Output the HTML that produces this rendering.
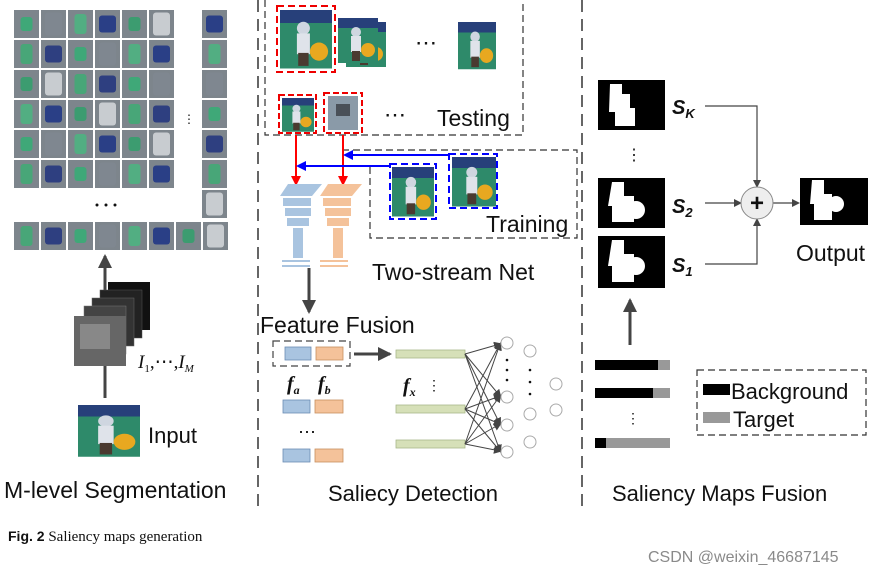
<!DOCTYPE html>
<html><head><meta charset="utf-8"><style>
body{margin:0;background:#fff;width:896px;height:575px;overflow:hidden}
svg{display:block}
text{font-family:"Liberation Sans",sans-serif;fill:#111}
</style></head><body>
<svg id="s" width="896" height="575" viewBox="0 0 896 575" xmlns="http://www.w3.org/2000/svg">
<defs>
<marker id="ag" markerWidth="8" markerHeight="8" refX="6" refY="4" orient="auto" markerUnits="userSpaceOnUse"><path d="M0,0 L8,4 L0,8z" fill="#444"/></marker>
<marker id="agb" markerWidth="14" markerHeight="14" refX="12" refY="7" orient="auto" markerUnits="userSpaceOnUse"><path d="M0,0 L14,7 L0,14z" fill="#444"/></marker>
<marker id="ar" markerWidth="10" markerHeight="10" refX="8" refY="5" orient="auto" markerUnits="userSpaceOnUse"><path d="M0,0 L10,5 L0,10z" fill="#f00"/></marker>
<marker id="ab" markerWidth="10" markerHeight="10" refX="8" refY="5" orient="auto" markerUnits="userSpaceOnUse"><path d="M0,0 L10,5 L0,10z" fill="#00f"/></marker>
<g id="photo"><rect width="40" height="45" fill="#2e8a6a"/><rect width="40" height="10" fill="#27407a"/><circle cx="18" cy="14" r="5" fill="#cfd6e0"/><rect x="13" y="18" width="10" height="16" fill="#dfe3ea"/><rect x="14" y="33" width="8" height="10" fill="#4a3a30"/><circle cx="30" cy="32" r="7" fill="#e8a820"/></g>
</defs>
<g id="tiles"></g>
<!-- left panel -->
<text x="183" y="123" font-size="12">⋮</text>
<circle cx="97" cy="205" r="1.5" fill="#111"/><circle cx="106" cy="205" r="1.5" fill="#111"/><circle cx="115" cy="205" r="1.5" fill="#111"/>
<line x1="105" y1="398" x2="105" y2="256" stroke="#444" stroke-width="3" marker-end="url(#agb)"/>
<g>
<rect x="108" y="282" width="42" height="48" fill="#111"/>
<rect x="100" y="290" width="42" height="48" fill="#222" stroke="#555" stroke-width="0.5"/>
<rect x="92" y="298" width="42" height="48" fill="#333" stroke="#666" stroke-width="0.5"/>
<rect x="84" y="306" width="42" height="48" fill="#444" stroke="#777" stroke-width="0.5"/>
<rect x="74" y="316" width="52" height="50" fill="#666"/>
<rect x="80" y="324" width="30" height="25" fill="#888"/>
</g>
<text x="138" y="368" font-size="19" font-style="italic" style="font-family:'Liberation Serif',serif">I<tspan font-size="11" dy="4" font-style="normal">1</tspan><tspan dy="-4" font-style="normal">,⋯,</tspan>I<tspan font-size="11" dy="4">M</tspan></text>
<use href="#photo" transform="translate(78,405) scale(1.55,1.15)"/>
<text x="148" y="443" font-size="22">Input</text>
<text x="4" y="498" font-size="23">M-level Segmentation</text>
<line x1="258" y1="0" x2="258" y2="510" stroke="#333" stroke-width="1.5" stroke-dasharray="12,7"/>
<line x1="582" y1="0" x2="582" y2="510" stroke="#333" stroke-width="1.5" stroke-dasharray="12,7"/>
<!-- testing -->
<rect x="265" y="-2" width="258" height="137" fill="none" stroke="#333" stroke-dasharray="7,4" stroke-width="1.2"/>
<use href="#photo" x="346" y="22"/><use href="#photo" x="338" y="18"/>
<use href="#photo" transform="translate(280,10) scale(1.3,1.3)"/>
<rect x="277" y="6" width="58" height="66" fill="none" stroke="#e00" stroke-width="2" stroke-dasharray="7,4"/>
<text x="415" y="50" font-size="22">⋯</text>
<use href="#photo" transform="translate(458,22) scale(0.95,1.05)"/>
<use href="#photo" transform="translate(282,98) scale(0.8,0.75)"/>
<rect x="279" y="95" width="37" height="38" fill="none" stroke="#e00" stroke-width="2" stroke-dasharray="6,3"/>
<rect x="328" y="96" width="30" height="34" fill="#8a9aa8"/><rect x="336" y="104" width="14" height="12" fill="#4a5058"/>
<rect x="324" y="93" width="38" height="40" fill="none" stroke="#e00" stroke-width="2" stroke-dasharray="6,3"/>
<text x="384" y="122" font-size="22">⋯</text>
<text x="437" y="126" font-size="23">Testing</text>
<!-- training -->
<path d="M370,167 V238 H577 V150 H343" fill="none" stroke="#333" stroke-dasharray="7,4" stroke-width="1.2"/>
<use href="#photo" transform="translate(392,167) scale(1.05,1.1)"/>
<rect x="390" y="164" width="46" height="55" fill="none" stroke="#00f" stroke-width="2" stroke-dasharray="7,4"/>
<use href="#photo" transform="translate(452,157) scale(1.1,1.1)"/>
<rect x="449" y="154" width="48" height="54" fill="none" stroke="#00f" stroke-width="2" stroke-dasharray="7,4"/>
<text x="486" y="232" font-size="23">Training</text>
<line x1="296" y1="135" x2="296" y2="184" stroke="#f00" stroke-width="2" marker-end="url(#ar)"/>
<line x1="343" y1="135" x2="343" y2="184" stroke="#f00" stroke-width="2" marker-end="url(#ar)"/>
<line x1="390" y1="166" x2="298" y2="166" stroke="#00f" stroke-width="2" marker-end="url(#ab)"/>
<line x1="450" y1="155" x2="345" y2="155" stroke="#00f" stroke-width="2" marker-end="url(#ab)"/>
<g fill="#a9c4e0">
<polygon points="288,184 322,184 312,196 280,196"/><rect x="283" y="198" width="28" height="8"/><rect x="285" y="208" width="26" height="8"/><rect x="287" y="218" width="22" height="8"/><rect x="293" y="228" width="10" height="30"/><rect x="282" y="260" width="28" height="2"/><rect x="282" y="265" width="28" height="2"/>
</g>
<g fill="#f4c29a">
<polygon points="328,184 362,184 352,196 320,196"/><rect x="323" y="198" width="28" height="8"/><rect x="325" y="208" width="26" height="8"/><rect x="327" y="218" width="22" height="8"/><rect x="333" y="228" width="10" height="30"/><rect x="320" y="260" width="28" height="2"/><rect x="320" y="265" width="28" height="2"/>
</g>
<text x="372" y="280" font-size="23">Two-stream Net</text>
<line x1="309" y1="268" x2="309" y2="312" stroke="#444" stroke-width="3" marker-end="url(#agb)"/>
<text x="260" y="333" font-size="23">Feature Fusion</text>
<rect x="273" y="341" width="77" height="25" fill="none" stroke="#444" stroke-dasharray="7,4" stroke-width="1.2"/>
<g stroke="#6b8db5" stroke-width="0.8"><rect x="285" y="347" width="26" height="13" fill="#a9c4e0"/><rect x="283" y="400" width="27" height="13" fill="#a9c4e0"/><rect x="283" y="449" width="27" height="13" fill="#a9c4e0"/></g>
<g stroke="#c89060" stroke-width="0.8"><rect x="316" y="347" width="27" height="13" fill="#f4c29a"/><rect x="315" y="400" width="28" height="13" fill="#f4c29a"/><rect x="315" y="449" width="28" height="13" fill="#f4c29a"/></g>
<text x="287" y="390" font-size="20" font-weight="bold" font-style="italic" style="font-family:'Liberation Serif',serif">f<tspan font-size="12" dy="4">a</tspan></text>
<text x="318" y="390" font-size="20" font-weight="bold" font-style="italic" style="font-family:'Liberation Serif',serif">f<tspan font-size="12" dy="4">b</tspan></text>
<text x="298" y="438" font-size="18">⋯</text>
<line x1="354" y1="354" x2="390" y2="354" stroke="#444" stroke-width="3" marker-end="url(#agb)"/>
<g fill="#d6e0b8" stroke="#a8b88a" stroke-width="0.8"><rect x="396" y="350" width="69" height="8"/><rect x="396" y="405" width="69" height="8"/><rect x="396" y="440" width="69" height="8"/></g>
<text x="403" y="392" font-size="20" font-weight="bold" font-style="italic" style="font-family:'Liberation Serif',serif">f<tspan font-size="12" dy="4">x</tspan></text>
<text x="427" y="390" font-size="14">⋮</text>
<g stroke="#444" stroke-width="1" marker-end="url(#ag)">
<line x1="465" y1="354" x2="500" y2="344"/><line x1="465" y1="354" x2="500" y2="396"/><line x1="465" y1="354" x2="500" y2="424"/><line x1="465" y1="354" x2="500" y2="451"/>
<line x1="465" y1="409" x2="500" y2="344"/><line x1="465" y1="409" x2="500" y2="396"/><line x1="465" y1="409" x2="500" y2="424"/><line x1="465" y1="409" x2="500" y2="451"/>
<line x1="465" y1="444" x2="500" y2="344"/><line x1="465" y1="444" x2="500" y2="396"/><line x1="465" y1="444" x2="500" y2="424"/><line x1="465" y1="444" x2="500" y2="451"/>
</g>
<g fill="#fff" stroke="#aaa"><circle cx="507" cy="343" r="6"/><circle cx="507" cy="397" r="6"/><circle cx="507" cy="425" r="6"/><circle cx="507" cy="452" r="6"/><circle cx="530" cy="351" r="6"/><circle cx="530" cy="414" r="6"/><circle cx="530" cy="442" r="6"/><circle cx="556" cy="384" r="6"/><circle cx="556" cy="410" r="6"/></g>
<g fill="#111"><circle cx="507" cy="360" r="1.3"/><circle cx="507" cy="370" r="1.3"/><circle cx="507" cy="380" r="1.3"/><circle cx="530" cy="370" r="1.3"/><circle cx="530" cy="382" r="1.3"/><circle cx="530" cy="394" r="1.3"/></g>
<text x="328" y="501" font-size="22">Saliecy Detection</text>
<!-- right -->
<g fill="#000"><rect x="598" y="80" width="67" height="50"/><rect x="598" y="178" width="67" height="50"/><rect x="598" y="236" width="67" height="52"/><rect x="800" y="178" width="68" height="47"/></g>
<g fill="#fff"><path d="M610,84 h12 v10 h8 v14 h5 v18 h-20 v-14 h-6z"/><path d="M612,182 h12 v14 h10 v26 h-22 v-16 h-4z"/><circle cx="636" cy="210" r="9"/><path d="M612,240 h12 v14 h10 v28 h-22 v-16 h-4z"/><circle cx="636" cy="266" r="9"/><path d="M812,180 h12 v14 h8 v26 h-18 v-16 h-4z"/><circle cx="836" cy="204" r="8"/></g>
<text x="672" y="114" font-size="20" font-weight="bold" font-style="italic">S<tspan font-size="13" dy="4">K</tspan></text>
<text x="672" y="213" font-size="20" font-weight="bold" font-style="italic">S<tspan font-size="13" dy="4">2</tspan></text>
<text x="672" y="272" font-size="20" font-weight="bold" font-style="italic">S<tspan font-size="13" dy="4">1</tspan></text>
<text x="626" y="160" font-size="16">⋮</text>
<g stroke="#444" stroke-width="1.2" fill="none">
<path d="M705,106 H757 V186" marker-end="url(#ag)"/>
<path d="M705,203 H740" marker-end="url(#ag)"/>
<path d="M705,264 H757 V220" marker-end="url(#ag)"/>
<path d="M773,203 H798" marker-end="url(#ag)"/>
</g>
<circle cx="757" cy="203" r="16" fill="#eee" stroke="#888"/>
<text x="757" y="211" font-size="24" font-weight="bold" text-anchor="middle">+</text>
<text x="796" y="261" font-size="23">Output</text>
<line x1="630" y1="345" x2="630" y2="300" stroke="#444" stroke-width="3" marker-end="url(#agb)"/>
<rect x="595" y="360" width="75" height="10" fill="#999"/><rect x="595" y="360" width="63" height="10" fill="#000"/>
<rect x="595" y="388" width="75" height="10" fill="#999"/><rect x="595" y="388" width="58" height="10" fill="#000"/>
<text x="626" y="423" font-size="14">⋮</text>
<rect x="595" y="438" width="75" height="10" fill="#999"/><rect x="595" y="438" width="11" height="10" fill="#000"/>
<rect x="697" y="370" width="169" height="65" fill="none" stroke="#333" stroke-dasharray="7,4" stroke-width="1.2"/>
<rect x="703" y="384" width="27" height="11" fill="#000"/><text x="731" y="399" font-size="22">Background</text>
<rect x="703" y="412" width="27" height="11" fill="#999"/><text x="733" y="427" font-size="22">Target</text>
<text x="612" y="501" font-size="22">Saliency Maps Fusion</text>
<text x="8" y="541" font-size="15" style="font-family:'Liberation Serif',serif"><tspan font-weight="bold" style="font-family:'Liberation Sans',sans-serif" font-size="14">Fig. 2</tspan>  Saliency maps generation</text>
<text x="648" y="562" font-size="16" style="fill:#8a8a8a">CSDN @weixin_46687145</text>
</svg>
<script>
var g=document.getElementById('tiles'),ns='http://www.w3.org/2000/svg';
var cols=['#3fa878','#2a3f86','#48a678','#7f8790','#3c9c70','#2e3f80','#52ae82','#c8ccd0'];
function t(x,y,i){var r=document.createElementNS(ns,'rect');r.setAttribute('x',x);r.setAttribute('y',y);r.setAttribute('width',25);r.setAttribute('height',28);r.setAttribute('fill','#7d858c');g.appendChild(r);
var c=document.createElementNS(ns,'rect');var w=12+(i*5)%10,h=14+(i*3)%12;c.setAttribute('x',x+(25-w)/2);c.setAttribute('y',y+(28-h)/2);c.setAttribute('width',w);c.setAttribute('height',h);c.setAttribute('rx',3);c.setAttribute('fill',cols[i%8]);g.appendChild(c);}
var k=0;for(var r=0;r<6;r++)for(var c=0;c<6;c++)t(14+c*27,10+r*30,k++*3);
for(var r=0;r<7;r++)t(202,10+r*30,r*5+1);
for(var c=0;c<8;c++)t(14+c*27,222,c*3+2);
</script>
</body></html>
